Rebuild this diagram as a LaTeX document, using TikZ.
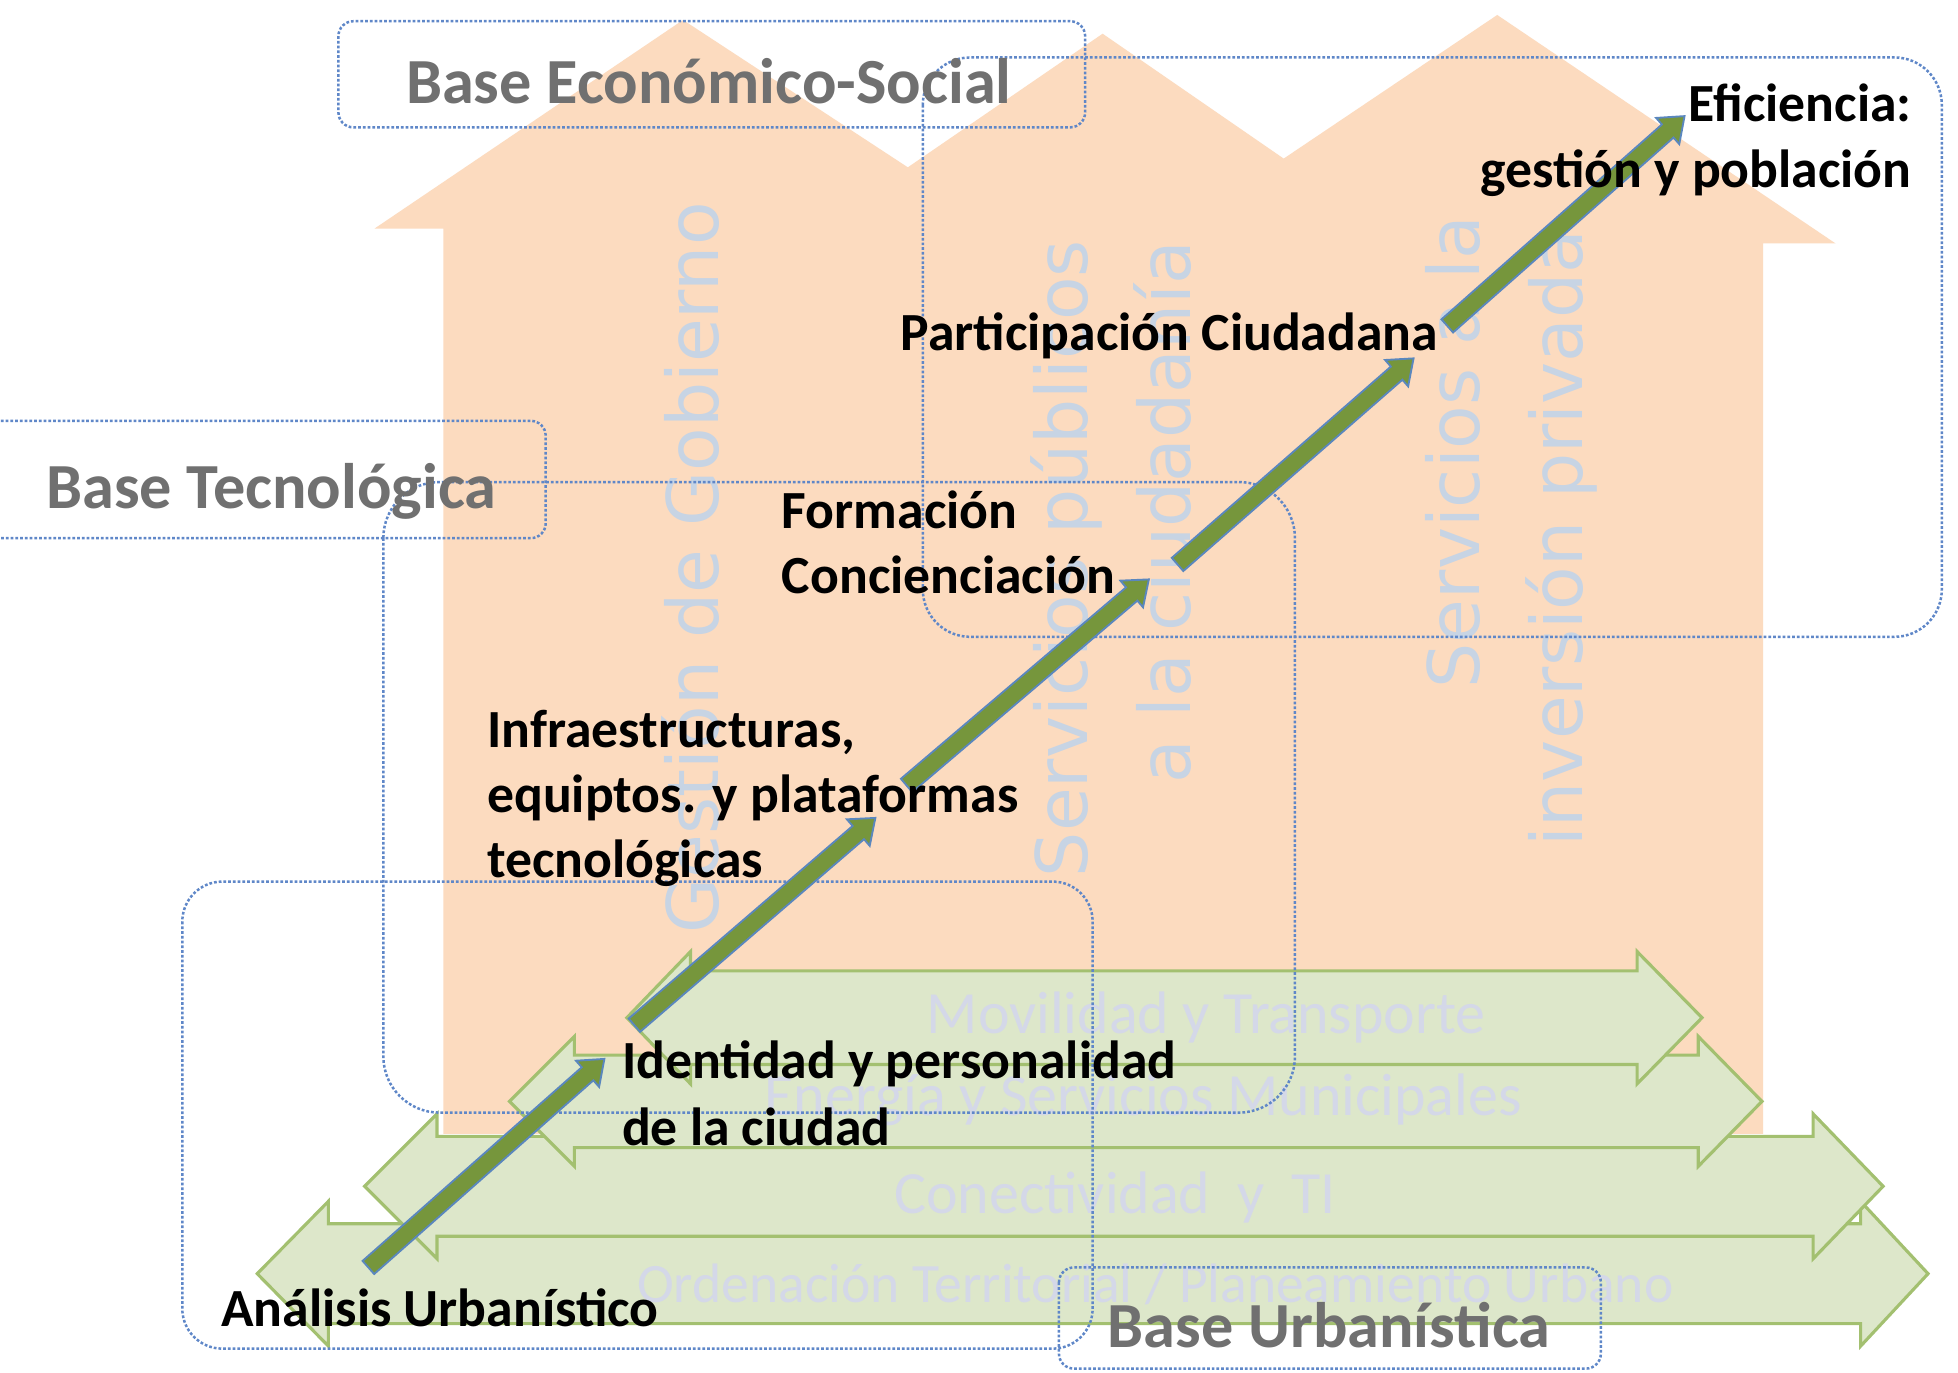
\documentclass[tikz,border=0pt]{standalone}
\usepackage{fontspec}
\setmainfont{Carlito}
\newfontfamily\vertfont{DejaVu Sans}
\usetikzlibrary{calc}
\definecolor{orangebg}{RGB}{252,219,191}
\definecolor{lgreen}{RGB}{221,231,202}
\definecolor{lgreenborder}{RGB}{163,192,112}
\definecolor{diagolive}{RGB}{118,150,60}
\definecolor{arrowblue}{RGB}{90,135,190}
\definecolor{boxblue}{RGB}{95,135,200}
\definecolor{labelgray}{RGB}{112,112,112}
\definecolor{vtextcol}{RGB}{199,212,228}
\definecolor{ftextcol}{RGB}{212,216,232}
\tikzset{
  dotbox/.style={draw=boxblue, line width=2pt, dash pattern=on 2.2pt off 1.6pt},
  blacklbl/.style={inner sep=0pt, anchor=base west, font=\fontsize{43}{52}\selectfont\bfseries, text=black},
  graylbl/.style={inner sep=0pt, anchor=base west, font=\fontsize{51.5}{60}\selectfont\bfseries, text=labelgray},
  vtext/.style={inner sep=0pt, anchor=base east, rotate=90, font=\vertfont\fontsize{57}{66}\selectfont, text=vtextcol},
  ftext/.style={inner sep=0pt, anchor=base west, font=\fontsize{48}{56}\selectfont, text=ftextcol},
  greenarrow/.style={fill=lgreen, draw=lgreenborder, line width=2.5pt, line join=miter},
  diagarrow/.style={fill=diagolive, draw=arrowblue, line width=1.5pt, line join=miter},
}
% double-headed horizontal block arrow: center y, left tip, left base, right base, right tip, body half, head half
\newcommand{\greendblarrow}[7]{%
  \draw[greenarrow] (#2,#1) -- (#3,#1-#7) -- (#3,#1-#6) -- (#4,#1-#6) -- (#4,#1-#7) -- (#5,#1)
    -- (#4,#1+#7) -- (#4,#1+#6) -- (#3,#1+#6) -- (#3,#1+#7) -- cycle;}
% diagonal block arrow from coordinate #1 to coordinate #2
\newcommand{\diagblock}[2]{%
  \coordinate (#1-h) at ($(#2)!18pt!(#1)$);
  \draw[diagarrow] ($(#1)!7pt!-90:(#2)$) -- ($(#1-h)!7pt!90:(#1)$) -- ($(#1-h)!14pt!90:(#1)$)
    -- (#2) -- ($(#1-h)!14pt!-90:(#1)$) -- ($(#1-h)!7pt!-90:(#1)$) -- ($(#1)!7pt!90:(#2)$) -- cycle;}
\begin{document}
\begin{tikzpicture}[x=1pt,y=-1pt]
\useasboundingbox (0,0) rectangle (1568,1099);
\clip (0,0) rectangle (1568,1099);
\fill[white] (0,0) rectangle (1568,1099);
% orange house of three upward arrows
\fill[orangebg] (355,908) -- (355,183) -- (300,183) -- (547,16) -- (727,134) -- (883,27)
  -- (1028,127) -- (1199,12) -- (1470,195) -- (1412,195) -- (1412,908) -- cycle;
% vertical faint texts
\node[vtext] (gob) at (575,162) {Gestión de Gobierno};
\node[vtext] (serv1) at (871,192) {Servicios públicos};
\node[vtext] (serv2) at (953,193) {a la ciudadanía};
\node[vtext] (inv1) at (1185,173) {Servicios a la};
\node[vtext] (inv2) at (1267,184) {inversión privada};
% green horizontal arrows (bottom first)
\greendblarrow{1020}{206}{263}{1490}{1544}{40}{58}
\node[ftext, font=\fontsize{44.5}{52}\selectfont] (orden) at (510,1043) {Ordenación Territorial / Planeamiento Urbano};
\greendblarrow{950}{292}{350}{1452}{1508}{40}{58}
\node[ftext] (conect) at (716,972) {Conectividad~~y~~TI};
\greendblarrow{882}{408}{460}{1360}{1411}{37}{52}
\node[ftext] (energ) at (612,893) {Energía y Servicios Municipales};
\greendblarrow{815}{502}{553}{1311}{1363}{37.5}{53}
\node[ftext] (movil) at (742,828) {Movilidad y Transporte};
% dotted group boxes
\draw[dotbox, rounded corners=12pt] (271,17) rectangle (869,102);
\draw[dotbox, rounded corners=38pt] (739,46) rectangle (1555,510);
\draw[dotbox, rounded corners=12pt] (-40,337) rectangle (437,431);
\draw[dotbox, rounded corners=45pt] (307,386) rectangle (1037,891);
\draw[dotbox, rounded corners=32pt] (146,706) rectangle (875,1080);
\draw[dotbox, rounded corners=12pt] (848,1015) rectangle (1282,1096);
% gray base labels
\node[graylbl] (econ) at (325,83) {Base Económico-Social};
\node[graylbl] (tecno) at (37,407) {Base Tecnológica};
\node[graylbl] (urban) at (887,1079) {Base Urbanística};
% diagonal progression arrows
\coordinate (s1a) at (295,1015); \coordinate (s1b) at (484,848);
\coordinate (s2a) at (508,821);  \coordinate (s2b) at (701,655);
\coordinate (s3a) at (726,629);  \coordinate (s3b) at (920,464);
\coordinate (s4a) at (943,452);  \coordinate (s4b) at (1132,287);
\coordinate (s5a) at (1159,261); \coordinate (s5b) at (1349,93);
\diagblock{s1a}{s1b}
\diagblock{s2a}{s2b}
\diagblock{s3a}{s3b}
\diagblock{s4a}{s4b}
\diagblock{s5a}{s5b}
% black labels
\node[blacklbl, anchor=base east] (efic1) at (1531,97) {Eficiencia:};
\node[blacklbl, anchor=base east] (efic2) at (1531,150) {gestión y población};
\node[blacklbl] (partic) at (721,281) {Participación Ciudadana};
\node[blacklbl] (form1) at (626,423) {Formación};
\node[blacklbl] (form2) at (626,475) {Concienciación};
\node[blacklbl] (infra1) at (390,599) {Infraestructuras,};
\node[blacklbl] (infra2) at (390,651) {equiptos. y plataformas};
\node[blacklbl] (infra3) at (390,703) {tecnológicas};
\node[blacklbl] (ident1) at (498,864) {Identidad y personalidad};
\node[blacklbl] (ident2) at (498,917) {de la ciudad};
\node[blacklbl] (anal) at (177,1062) {Análisis Urbanístico};
\end{tikzpicture}
\end{document}
